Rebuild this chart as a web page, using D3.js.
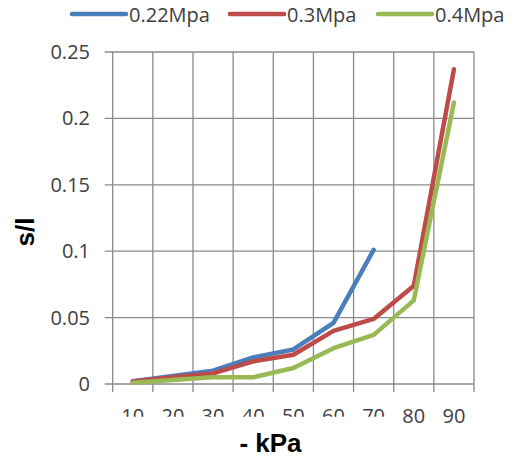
<!DOCTYPE html>
<html>
<head>
<meta charset="utf-8">
<script src="https://cdn.jsdelivr.net/npm/d3@7"></script>
<style>
  html, body { margin: 0; padding: 0; background: #fff; }
  svg { display: block; }
  text { font-family: "Open Sans", "Liberation Sans", sans-serif; fill: #404040; }
  .title { font-family: "Liberation Sans", Arial, sans-serif; font-weight: bold; fill: #000; }
</style>
</head>
<body>
<svg id="chart" width="513" height="458"></svg>
<script>
const categories = ["10", "20", "30", "40", "50", "60", "70", "80", "90"];
const seriesNames = ["0.22Mpa", "0.3Mpa", "0.4Mpa"];
const values022 = [0.002, 0.006, 0.010, 0.020, 0.026, 0.046, 0.101];
const values03  = [0.0018, 0.005, 0.008, 0.017, 0.022, 0.040, 0.049, 0.074, 0.237];
const values04  = [0.001, 0.003, 0.005, 0.005, 0.012, 0.027, 0.037, 0.063, 0.212];
const yTicks = [0, 0.05, 0.1, 0.15, 0.2, 0.25];
const yTickLabels = ["0", "0.05", "0.1", "0.15", "0.2", "0.25"];
const colors = ["#4a7ebb", "#be4b48", "#98b954"];

(function () {
const svg = d3.select("#chart");
const mLeft = 112.7, mRight = 474, mTop = 52, mBottom = 384;

const x = d3.scaleBand().domain(categories).range([mLeft, mRight]).paddingInner(0).paddingOuter(0);
const y = d3.scaleLinear().domain([0, 0.25]).range([mBottom, mTop]);
const gridColor = "#8a8a8a";

// horizontal grid + y ticks
svg.append("g").selectAll("line").data(yTicks).join("line")
  .attr("x1", mLeft - 8).attr("x2", mRight)
  .attr("y1", d => y(d)).attr("y2", d => y(d))
  .attr("stroke", gridColor).attr("stroke-width", 1.3);

// vertical grid (category boundaries) + x ticks
const bounds = categories.map(c => x(c)).concat([x(categories[categories.length - 1]) + x.bandwidth()]);
svg.append("g").selectAll("line").data(bounds).join("line")
  .attr("x1", d => d).attr("x2", d => d)
  .attr("y1", mTop).attr("y2", mBottom + 8)
  .attr("stroke", gridColor).attr("stroke-width", 1.3);

// y tick labels
svg.append("g").selectAll("text").data(yTicks).join("text")
  .attr("x", 90).attr("y", d => y(d) + 7)
  .attr("text-anchor", "end").attr("font-size", 20)
  .text((d, i) => yTickLabels[i]);

// x tick labels (first seven appear clipped at the bottom in the reference)
const defs = svg.append("defs");
defs.append("clipPath").attr("id", "lblclip").append("rect")
  .attr("x", 0).attr("y", 0).attr("width", 513).attr("height", 416.8);
svg.append("g").selectAll("text").data(categories).join("text")
  .attr("x", d => x(d) + x.bandwidth() / 2)
  .attr("y", 423)
  .attr("text-anchor", "middle").attr("font-size", 20)
  .attr("clip-path", (d, i) => i < 7 ? "url(#lblclip)" : null)
  .text(d => d);

// lines
const seriesData = [values022, values03, values04];
const line = d3.line()
  .x((d, i) => x(categories[i]) + x.bandwidth() / 2)
  .y(d => y(d));
svg.append("g").selectAll("path").data(seriesData).join("path")
  .attr("d", d => line(d))
  .attr("fill", "none")
  .attr("stroke", (d, i) => colors[i])
  .attr("stroke-width", 4.5)
  .attr("stroke-linejoin", "round")
  .attr("stroke-linecap", "round");

// axis titles
svg.append("text").attr("class", "title")
  .attr("transform", "translate(34,232) rotate(-90)")
  .attr("text-anchor", "middle").attr("font-size", 26)
  .text("s/l");
svg.append("text").attr("class", "title")
  .attr("x", 270.5).attr("y", 451.5)
  .attr("text-anchor", "middle").attr("font-size", 26)
  .text("- kPa");

// legend
const legendX = [72, 230, 378];
const lg = svg.append("g").selectAll("g").data(seriesNames).join("g")
  .attr("transform", (d, i) => `translate(${legendX[i]},14)`);
lg.append("line").attr("x1", 0).attr("x2", 54).attr("y1", 0).attr("y2", 0)
  .attr("stroke", (d, i) => colors[i]).attr("stroke-width", 4.5).attr("stroke-linecap", "round");
lg.append("text").attr("x", 57).attr("y", 8).attr("font-size", 20).text(d => d);
})();
</script>
</body>
</html>
